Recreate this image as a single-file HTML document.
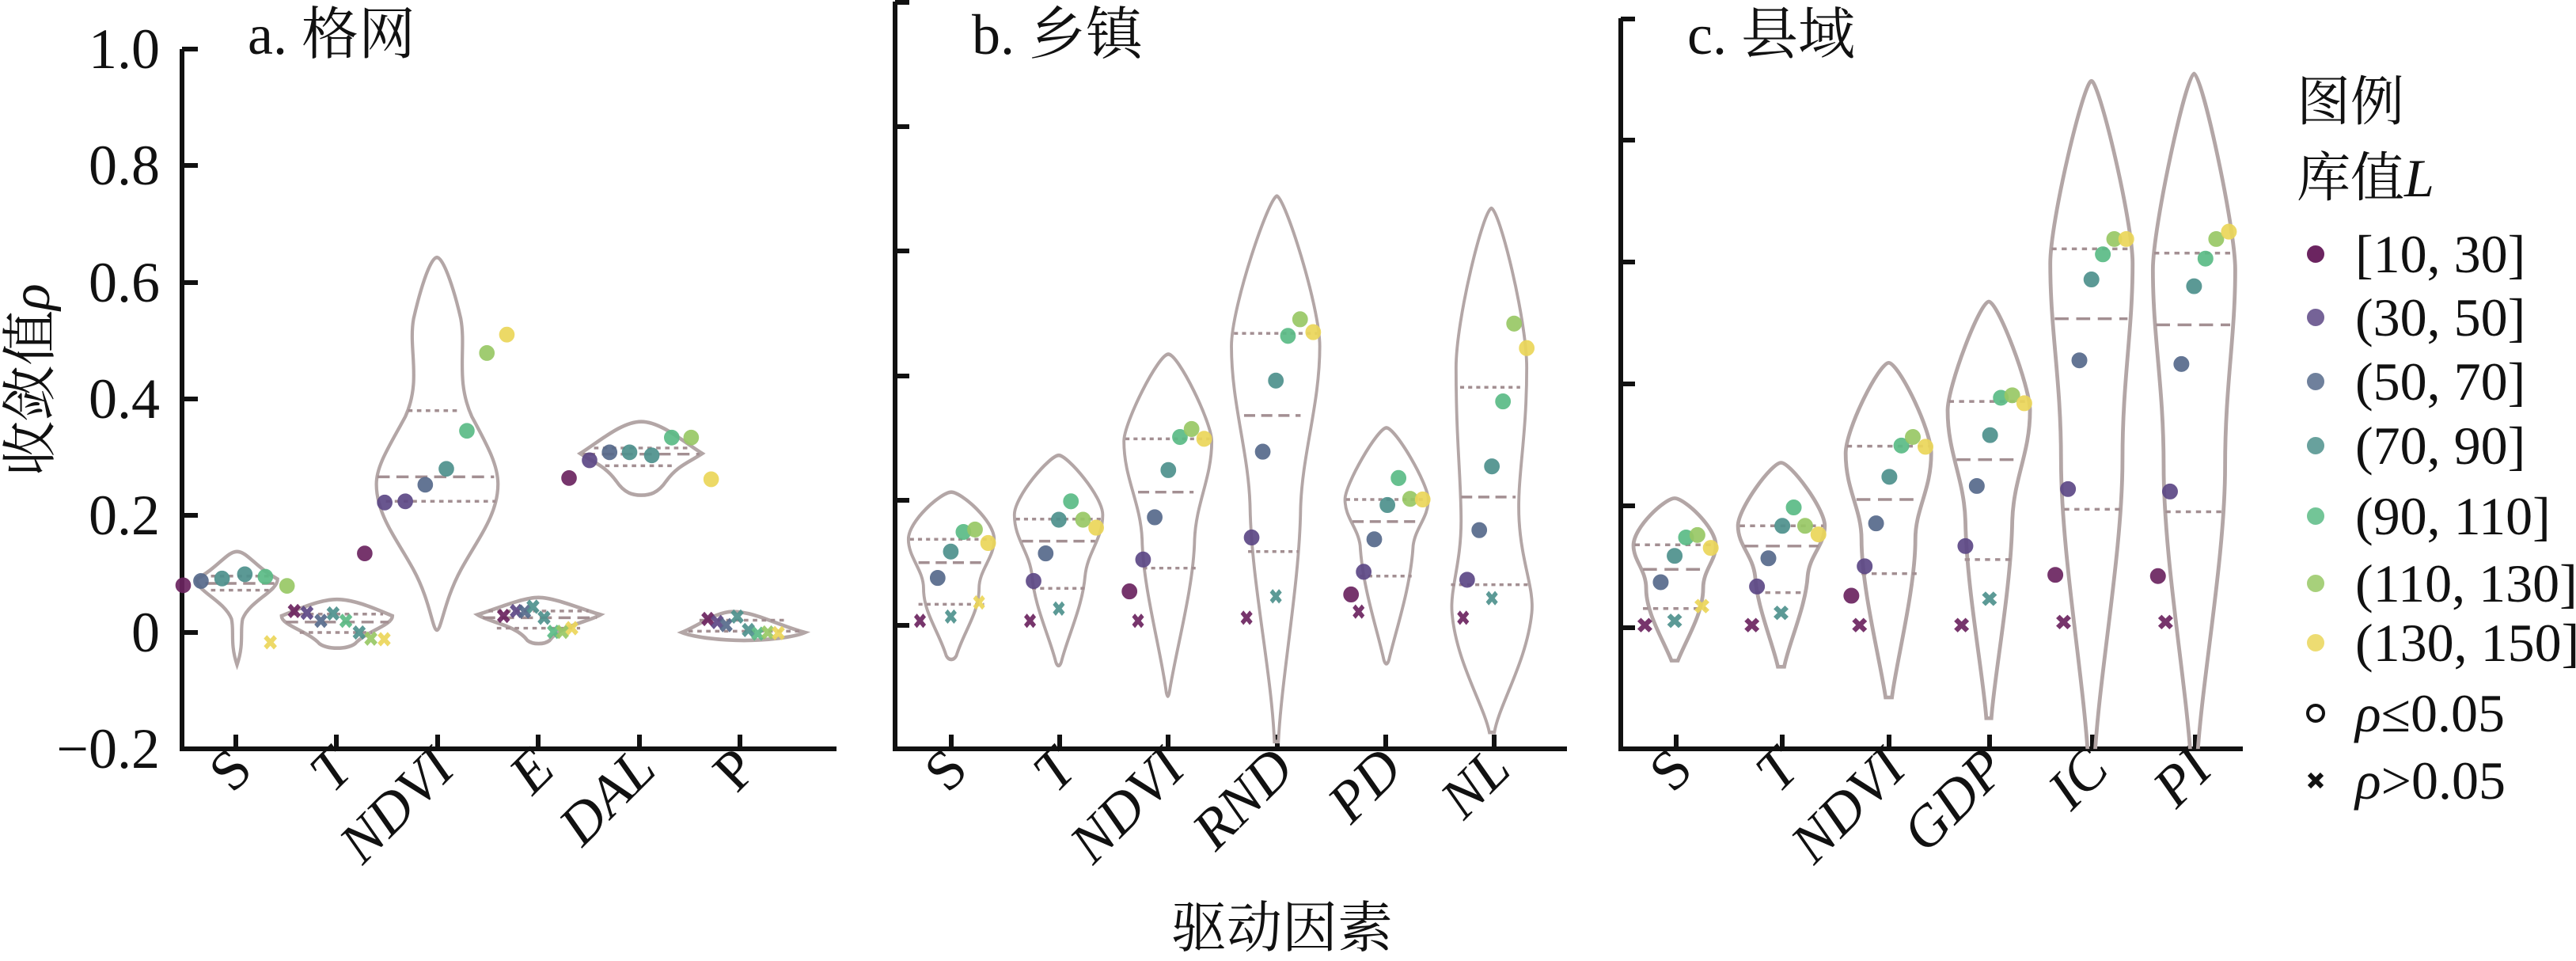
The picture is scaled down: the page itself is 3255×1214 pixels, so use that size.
<!DOCTYPE html>
<html><head><meta charset="utf-8">
<style>
html,body{margin:0;padding:0;background:#fff;}
svg{display:block;}
text{font-family:"Liberation Serif","Noto Serif CJK SC","Noto Sans CJK SC",serif;fill:#111;}
</style></head>
<body>
<svg width="3255" height="1214" viewBox="0 0 3255 1214" xmlns="http://www.w3.org/2000/svg">
<defs>
<path id="xm" d="M-9,-9L9,9M-9,9L9,-9" fill="none" stroke-width="8"/>
<clipPath id="clipc"><rect x="0" y="0" width="1300" height="1222"/></clipPath>
</defs>
<style>
.v{fill:none;stroke:#b3a6a6;stroke-width:6;}
.q{stroke:#a38f92;stroke-width:4.5;stroke-dasharray:8 8;fill:none;}
.m{stroke:#a38f92;stroke-width:4.5;stroke-dasharray:22 12;fill:none;}
.c0{fill:#6b2460;stroke:#6b2460}.c1{fill:#5d4886;stroke:#5d4886}.c2{fill:#566a8b;stroke:#566a8b}
.c3{fill:#4e918d;stroke:#4e918d}.c4{fill:#5bbb86;stroke:#5bbb86}.c5{fill:#98c865;stroke:#98c865}.c6{fill:#ebd65a;stroke:#ebd65a}
ellipse{stroke:none;opacity:0.92}
use{opacity:0.92}
</style>

<!-- ========== Panel a ========== -->
<g stroke="#111" stroke-width="6" fill="none">
<path d="M230,62 V946 H1057"/>
<path d="M230,62 h20 M230,209 h20 M230,357 h20 M230,504 h20 M230,651 h20 M230,799 h20"/>
<path d="M298,946 v-18 M425,946 v-18 M553,946 v-18 M680,946 v-18 M808,946 v-18 M935,946 v-18"/>
</g>
<g font-size="72" text-anchor="end">
<text x="202" y="86">1.0</text><text x="202" y="233">0.8</text><text x="202" y="381">0.6</text>
<text x="202" y="528">0.4</text><text x="202" y="675">0.2</text><text x="202" y="823">0</text><text x="202" y="970">−0.2</text>
</g>
<text x="313" y="68" font-size="72">a. 格网</text>
<text transform="translate(62,480) rotate(-90)" font-size="70" text-anchor="middle">收敛值<tspan font-style="italic">ρ</tspan></text>
<g font-size="72" text-anchor="end">
<text transform="translate(322,975) rotate(-45)">S</text>
<text transform="translate(449,975) rotate(-45)" font-style="italic">T</text>
<text transform="translate(577,975) rotate(-45)" font-style="italic">NDVI</text>
<text transform="translate(704,975) rotate(-45)" font-style="italic">E</text>
<text transform="translate(832,975) rotate(-45)" font-style="italic">DAL</text>
<text transform="translate(959,975) rotate(-45)">P</text>
</g>

<g transform="scale(0.7015,0.7742)">
<path class="v" d="M427,900 C445,900 460,925 500,945 C500,965 450,980 437,1010 C432,1030 440,1050 427,1085 C414,1050 422,1030 417,1010 C404,980 354,965 354,945 C394,925 409,900 427,900 Z"/>
<path class="q" d="M380,940H490 M380,963H490"/><path class="m" d="M370,952H495"/>
<path class="v" d="M607,978 C640,978 680,995 707,1005 C707,1020 660,1030 640,1050 C625,1060 590,1060 575,1050 C555,1030 507,1020 507,1005 C535,995 575,978 607,978Z"/>
<path class="q" d="M525,1002H690 M540,1032H670"/><path class="m" d="M515,1015H700"/>
<path class="v" d="M787,420 C800,420 820,480 830,520 C840,570 820,620 850,680 C880,730 897,760 897,790 C897,840 860,880 830,930 C800,980 795,1028 787,1028 C779,1028 775,980 745,930 C715,880 678,840 678,790 C678,760 700,730 730,680 C760,620 735,570 745,520 C755,480 774,420 787,420 Z"/>
<path class="q" d="M735,670H825 M695,818H893"/><path class="m" d="M680,778H890"/>
<path class="v" d="M970,975 C1000,975 1050,995 1082,1003 C1060,1015 1010,1020 990,1045 C980,1052 960,1052 950,1045 C930,1020 880,1015 860,1003 C890,995 940,975 970,975 Z"/>
<path class="q" d="M880,997H1060 M895,1025H1045"/><path class="m" d="M870,1008H1075"/>
<path class="v" d="M1155,688 C1190,688 1230,720 1265,740 C1240,755 1220,760 1200,785 C1185,805 1170,808 1155,808 C1140,808 1125,805 1110,785 C1090,760 1070,755 1045,740 C1080,720 1120,688 1155,688 Z"/>
<path class="q" d="M1070,731H1245 M1090,760H1215"/><path class="m" d="M1050,741H1260"/>
<path class="v" d="M1320,998 C1360,998 1400,1020 1450,1032 C1430,1040 1380,1045 1340,1045 C1300,1045 1250,1040 1228,1032 C1260,1020 1290,998 1320,998Z"/>
<path class="q" d="M1260,1012H1420 M1240,1030H1440"/>

<ellipse class="c0" cx="330" cy="955" rx="13.5" ry="12.3"/><ellipse class="c2" cx="362" cy="948" rx="13.5" ry="12.3"/>
<ellipse class="c3" cx="400" cy="944" rx="13.5" ry="12.3"/><ellipse class="c3" cx="441" cy="937" rx="13.5" ry="12.3"/>
<ellipse class="c4" cx="478" cy="941" rx="13.5" ry="12.3"/><ellipse class="c5" cx="517" cy="956" rx="13.5" ry="12.3"/>
<use href="#xm" class="c6" x="487" y="1048"/>
<use href="#xm" class="c0" x="530" y="997"/><use href="#xm" class="c1" x="553" y="1000"/><use href="#xm" class="c2" x="578" y="1013"/>
<use href="#xm" class="c3" x="600" y="1001"/><use href="#xm" class="c4" x="623" y="1013"/><use href="#xm" class="c3" x="647" y="1032"/>
<use href="#xm" class="c5" x="668" y="1042"/><use href="#xm" class="c6" x="692" y="1043"/>
<ellipse class="c0" cx="657" cy="903" rx="13.5" ry="12.3"/><ellipse class="c1" cx="693" cy="820" rx="13.5" ry="12.3"/>
<ellipse class="c1" cx="730" cy="818" rx="13.5" ry="12.3"/><ellipse class="c2" cx="766" cy="791" rx="13.5" ry="12.3"/>
<ellipse class="c3" cx="804" cy="765" rx="13.5" ry="12.3"/><ellipse class="c4" cx="841" cy="703" rx="13.5" ry="12.3"/>
<ellipse class="c5" cx="877" cy="576" rx="13.5" ry="12.3"/><ellipse class="c6" cx="913" cy="546" rx="13.5" ry="12.3"/>
<use href="#xm" class="c0" x="907" y="1005"/><use href="#xm" class="c1" x="930" y="997"/><use href="#xm" class="c2" x="945" y="998"/>
<use href="#xm" class="c3" x="960" y="990"/><use href="#xm" class="c3" x="980" y="1008"/><use href="#xm" class="c4" x="997" y="1031"/>
<use href="#xm" class="c5" x="1013" y="1031"/><use href="#xm" class="c6" x="1030" y="1025"/>
<ellipse class="c0" cx="1025" cy="780" rx="13.5" ry="12.3"/><ellipse class="c1" cx="1062" cy="751" rx="13.5" ry="12.3"/>
<ellipse class="c2" cx="1098" cy="738" rx="13.5" ry="12.3"/><ellipse class="c3" cx="1134" cy="738" rx="13.5" ry="12.3"/>
<ellipse class="c3" cx="1174" cy="743" rx="13.5" ry="12.3"/><ellipse class="c4" cx="1210" cy="714" rx="13.5" ry="12.3"/>
<ellipse class="c5" cx="1245" cy="714" rx="13.5" ry="12.3"/><ellipse class="c6" cx="1281" cy="782" rx="13.5" ry="12.3"/>
<use href="#xm" class="c0" x="1275" y="1010"/><use href="#xm" class="c1" x="1292" y="1015"/><use href="#xm" class="c2" x="1308" y="1020"/>
<use href="#xm" class="c3" x="1328" y="1006"/><use href="#xm" class="c3" x="1348" y="1028"/><use href="#xm" class="c4" x="1365" y="1034"/>
<use href="#xm" class="c5" x="1383" y="1032"/><use href="#xm" class="c6" x="1402" y="1033"/>
</g>

<!-- ========== Panel b ========== -->
<g stroke="#111" stroke-width="6" fill="none">
<path d="M1131,2 V946 H1980"/>
<path d="M1131,3 h18 M1131,160 h18 M1131,317 h18 M1131,475 h18 M1131,632 h18 M1131,790 h18"/>
<path d="M1202,946 v-18 M1339,946 v-18 M1476,946 v-18 M1614,946 v-18 M1751,946 v-18 M1888,946 v-18"/>
</g>
<text x="1228" y="68" font-size="72">b. 乡镇</text>
<g font-size="72" text-anchor="end" font-style="italic">
<text transform="translate(1226,975) rotate(-45)" font-style="normal">S</text>
<text transform="translate(1363,975) rotate(-45)">T</text>
<text transform="translate(1500,975) rotate(-45)">NDVI</text>
<text transform="translate(1638,975) rotate(-45)">RND</text>
<text transform="translate(1775,975) rotate(-45)">PD</text>
<text transform="translate(1912,975) rotate(-45)">NL</text>
</g>
<text x="1620" y="1196" font-size="70" text-anchor="middle">驱动因素</text>

<g transform="translate(1100,0) scale(0.6378,0.7742)">
<path class="v" d="M160,803 C180,803 245,850 245,880 C245,910 215,930 215,960 C215,1000 185,1030 170,1070 C165,1078 155,1078 150,1070 C135,1030 105,1000 105,960 C105,930 75,910 75,880 C75,850 140,803 160,803 Z"/>
<path class="q" d="M78,880H240 M95,986H225"/><path class="m" d="M95,918H220"/>
<path class="v" d="M373,743 C390,743 460,810 460,840 C460,880 430,900 425,940 C420,990 390,1040 378,1080 C375,1088 370,1088 367,1080 C355,1040 325,990 320,940 C315,900 285,880 285,840 C285,810 355,743 373,743 Z"/>
<path class="q" d="M288,847H457 M320,960H425"/><path class="m" d="M300,883H445"/>
<path class="v" d="M590,578 C610,578 676,690 676,720 C676,780 645,820 642,880 C640,960 605,1060 592,1130 C590,1138 588,1138 586,1130 C575,1060 540,960 538,880 C535,820 502,780 502,720 C502,690 570,578 590,578 Z"/>
<path class="q" d="M505,716H672 M540,927H645"/><path class="m" d="M530,803H640"/>
<path class="v" d="M805,320 C820,320 890,500 890,565 C890,660 855,740 852,830 C850,950 815,1100 808,1210 L800,1210 C795,1100 755,950 752,830 C750,740 715,660 715,565 C715,500 790,320 805,320 Z"/>
<path class="q" d="M720,544H885 M748,900H848"/><path class="m" d="M740,678H852"/>
<path class="v" d="M1022,698 C1040,698 1105,790 1105,815 C1105,845 1080,860 1075,890 C1070,960 1040,1030 1027,1077 C1024,1085 1020,1085 1017,1077 C1005,1030 975,960 970,890 C965,860 940,845 940,815 C940,790 1005,698 1022,698 Z"/>
<path class="q" d="M942,815H1103 M970,940H1072"/><path class="m" d="M955,851H1090"/>
<path class="v" d="M1230,340 C1245,340 1300,520 1300,600 C1300,720 1280,780 1285,850 C1290,920 1315,960 1310,1000 C1300,1080 1245,1150 1236,1195 L1226,1195 C1215,1150 1160,1080 1152,1000 C1148,960 1170,920 1170,850 C1170,780 1160,720 1160,600 C1160,520 1215,340 1230,340 Z"/>
<path class="q" d="M1168,632H1287 M1150,954H1310"/><path class="m" d="M1170,811H1278"/>

<use href="#xm" class="c0" x="98" y="1013"/><ellipse class="c2" cx="133" cy="943" rx="15" ry="12.5"/>
<ellipse class="c3" cx="159" cy="900" rx="15" ry="12.5"/><use href="#xm" class="c3" x="159" y="1006"/>
<ellipse class="c4" cx="184" cy="868" rx="15" ry="12.5"/><ellipse class="c5" cx="207" cy="864" rx="15" ry="12.5"/>
<ellipse class="c6" cx="233" cy="886" rx="15" ry="12.5"/><use href="#xm" class="c6" x="215" y="983"/>
<use href="#xm" class="c0" x="316" y="1013"/><ellipse class="c1" cx="323" cy="948" rx="15" ry="12.5"/>
<ellipse class="c2" cx="347" cy="903" rx="15" ry="12.5"/><use href="#xm" class="c3" x="373" y="993"/>
<ellipse class="c3" cx="373" cy="848" rx="15" ry="12.5"/><ellipse class="c4" cx="397" cy="818" rx="15" ry="12.5"/>
<ellipse class="c5" cx="421" cy="848" rx="15" ry="12.5"/><ellipse class="c6" cx="447" cy="861" rx="15" ry="12.5"/>
<use href="#xm" class="c0" x="530" y="1013"/><ellipse class="c0" cx="513" cy="965" rx="15" ry="12.5"/>
<ellipse class="c1" cx="540" cy="913" rx="15" ry="12.5"/><ellipse class="c2" cx="563" cy="844" rx="15" ry="12.5"/>
<ellipse class="c3" cx="590" cy="767" rx="15" ry="12.5"/><ellipse class="c4" cx="613" cy="713" rx="15" ry="12.5"/>
<ellipse class="c5" cx="636" cy="700" rx="15" ry="12.5"/><ellipse class="c6" cx="661" cy="716" rx="15" ry="12.5"/>
<use href="#xm" class="c0" x="745" y="1008"/><ellipse class="c1" cx="755" cy="877" rx="15" ry="12.5"/>
<ellipse class="c2" cx="777" cy="737" rx="15" ry="12.5"/><ellipse class="c3" cx="803" cy="621" rx="15" ry="12.5"/>
<use href="#xm" class="c3" x="803" y="973"/><ellipse class="c4" cx="827" cy="548" rx="15" ry="12.5"/>
<ellipse class="c5" cx="851" cy="521" rx="15" ry="12.5"/><ellipse class="c6" cx="877" cy="542" rx="15" ry="12.5"/>
<ellipse class="c0" cx="952" cy="970" rx="15" ry="12.5"/><use href="#xm" class="c0" x="967" y="998"/>
<ellipse class="c1" cx="977" cy="933" rx="15" ry="12.5"/><ellipse class="c2" cx="998" cy="880" rx="15" ry="12.5"/>
<ellipse class="c3" cx="1024" cy="824" rx="15" ry="12.5"/><ellipse class="c4" cx="1046" cy="780" rx="15" ry="12.5"/>
<ellipse class="c5" cx="1069" cy="814" rx="15" ry="12.5"/><ellipse class="c6" cx="1094" cy="815" rx="15" ry="12.5"/>
<use href="#xm" class="c0" x="1174" y="1008"/><ellipse class="c1" cx="1182" cy="946" rx="15" ry="12.5"/>
<ellipse class="c2" cx="1206" cy="865" rx="15" ry="12.5"/><ellipse class="c3" cx="1231" cy="761" rx="15" ry="12.5"/>
<use href="#xm" class="c3" x="1231" y="976"/><ellipse class="c4" cx="1253" cy="655" rx="15" ry="12.5"/>
<ellipse class="c5" cx="1275" cy="528" rx="15" ry="12.5"/><ellipse class="c6" cx="1300" cy="568" rx="15" ry="12.5"/>
</g>

<!-- ========== Panel c ========== -->
<g stroke="#111" stroke-width="6" fill="none">
<path d="M2048,23 V946 H2834"/>
<path d="M2048,24 h18 M2048,177 h18 M2048,331 h18 M2048,485 h18 M2048,639 h18 M2048,793 h18"/>
<path d="M2118,946 v-18 M2252,946 v-18 M2387,946 v-18 M2514,946 v-18 M2644,946 v-18 M2774,946 v-18"/>
</g>
<text x="2132" y="68" font-size="72">c. 县域</text>
<g font-size="72" text-anchor="end" font-style="italic">
<text transform="translate(2142,975) rotate(-45)" font-style="normal">S</text>
<text transform="translate(2276,975) rotate(-45)">T</text>
<text transform="translate(2411,975) rotate(-45)">NDVI</text>
<text transform="translate(2538,975) rotate(-45)">GDP</text>
<text transform="translate(2668,975) rotate(-45)">IC</text>
<text transform="translate(2798,975) rotate(-45)">PI</text>
</g>

<g transform="translate(2000,0) scale(0.8004,0.7742)">
<g clip-path="url(#clipc)">
<path class="v" d="M145,813 C160,813 210,860 210,890 C210,915 190,930 190,960 C190,1000 165,1040 150,1078 L140,1078 C125,1040 100,1000 100,960 C100,930 80,915 80,890 C80,860 130,813 145,813 Z"/>
<path class="q" d="M82,889H208 M95,993H195"/><path class="m" d="M95,929H195"/>
<path class="v" d="M313,755 C328,755 382,830 382,858 C382,890 358,905 355,940 C352,990 325,1050 318,1088 L308,1088 C300,1050 275,990 272,940 C268,905 245,890 245,858 C245,830 298,755 313,755 Z"/>
<path class="q" d="M248,858H380 M272,967H352"/><path class="m" d="M255,891H372"/>
<path class="v" d="M483,592 C498,592 550,700 550,740 C550,800 525,830 525,880 C525,960 495,1080 488,1138 L478,1138 C470,1080 440,960 440,880 C440,830 415,800 415,740 C415,700 468,592 483,592 Z"/>
<path class="q" d="M417,728H549 M440,936H527"/><path class="m" d="M432,815H525"/>
<path class="v" d="M641,492 C655,492 706,630 706,670 C706,740 680,780 678,850 C676,960 650,1100 645,1172 L637,1172 C632,1100 606,960 604,850 C602,780 576,740 576,670 C576,630 627,492 641,492 Z"/>
<path class="q" d="M578,655H705 M603,913H678"/><path class="m" d="M590,750H685"/>
<path class="v" d="M803,132 C815,132 868,360 868,430 C868,540 852,620 852,750 C852,900 815,1100 808,1240 L798,1240 C790,1100 755,900 755,750 C755,620 738,540 738,430 C738,360 791,132 803,132 Z"/>
<path class="q" d="M740,406H866 M760,831H850"/><path class="m" d="M745,520H860"/>
<path class="v" d="M965,120 C977,120 1030,370 1030,440 C1030,550 1014,630 1014,760 C1014,910 977,1110 970,1240 L960,1240 C952,1110 917,910 917,760 C917,630 900,550 900,440 C900,370 953,120 965,120 Z"/>
<path class="q" d="M902,413H1028 M920,835H1012"/><path class="m" d="M905,530H1022"/>
</g>
<use href="#xm" class="c0" x="98" y="1020"/><ellipse class="c2" cx="123" cy="950" rx="12" ry="12.4"/>
<ellipse class="c3" cx="145" cy="907" rx="12" ry="12.4"/><use href="#xm" class="c3" x="145" y="1013"/>
<ellipse class="c4" cx="163" cy="877" rx="12" ry="12.4"/><ellipse class="c5" cx="181" cy="873" rx="12" ry="12.4"/>
<ellipse class="c6" cx="202" cy="894" rx="12" ry="12.4"/><use href="#xm" class="c6" x="188" y="989"/>
<use href="#xm" class="c0" x="267" y="1020"/><ellipse class="c1" cx="275" cy="957" rx="12" ry="12.4"/>
<ellipse class="c2" cx="293" cy="911" rx="12" ry="12.4"/><use href="#xm" class="c3" x="313" y="1000"/>
<ellipse class="c3" cx="315" cy="858" rx="12" ry="12.4"/><ellipse class="c4" cx="333" cy="828" rx="12" ry="12.4"/>
<ellipse class="c5" cx="351" cy="858" rx="12" ry="12.4"/><ellipse class="c6" cx="372" cy="872" rx="12" ry="12.4"/>
<use href="#xm" class="c0" x="437" y="1020"/><ellipse class="c0" cx="424" cy="972" rx="12" ry="12.4"/>
<ellipse class="c1" cx="445" cy="924" rx="12" ry="12.4"/><ellipse class="c2" cx="463" cy="854" rx="12" ry="12.4"/>
<ellipse class="c3" cx="484" cy="778" rx="12" ry="12.4"/><ellipse class="c4" cx="503" cy="727" rx="12" ry="12.4"/>
<ellipse class="c5" cx="521" cy="713" rx="12" ry="12.4"/><ellipse class="c6" cx="541" cy="729" rx="12" ry="12.4"/>
<use href="#xm" class="c0" x="598" y="1020"/><ellipse class="c1" cx="604" cy="891" rx="12" ry="12.4"/>
<ellipse class="c2" cx="622" cy="793" rx="12" ry="12.4"/><use href="#xm" class="c3" x="642" y="977"/>
<ellipse class="c3" cx="643" cy="710" rx="12" ry="12.4"/><ellipse class="c4" cx="660" cy="649" rx="12" ry="12.4"/>
<ellipse class="c5" cx="678" cy="645" rx="12" ry="12.4"/><ellipse class="c6" cx="697" cy="658" rx="12" ry="12.4"/>
<use href="#xm" class="c0" x="759" y="1015"/><ellipse class="c0" cx="746" cy="938" rx="12" ry="12.4"/>
<ellipse class="c1" cx="766" cy="798" rx="12" ry="12.4"/><ellipse class="c2" cx="784" cy="588" rx="12" ry="12.4"/>
<ellipse class="c3" cx="803" cy="456" rx="12" ry="12.4"/><ellipse class="c4" cx="821" cy="415" rx="12" ry="12.4"/>
<ellipse class="c5" cx="839" cy="390" rx="12" ry="12.4"/><ellipse class="c6" cx="858" cy="390" rx="12" ry="12.4"/>
<use href="#xm" class="c0" x="920" y="1015"/><ellipse class="c0" cx="908" cy="940" rx="12" ry="12.4"/>
<ellipse class="c1" cx="927" cy="802" rx="12" ry="12.4"/><ellipse class="c2" cx="945" cy="594" rx="12" ry="12.4"/>
<ellipse class="c3" cx="965" cy="467" rx="12" ry="12.4"/><ellipse class="c4" cx="983" cy="422" rx="12" ry="12.4"/>
<ellipse class="c5" cx="1000" cy="390" rx="12" ry="12.4"/><ellipse class="c6" cx="1020" cy="378" rx="12" ry="12.4"/>
</g>

<!-- ========== Legend ========== -->
<g font-size="68">
<text x="2902" y="152">图例</text>
<text x="2902" y="248">库值<tspan font-style="italic">L</tspan></text>
<text x="2976" y="344">[10, 30]</text>
<text x="2976" y="424">(30, 50]</text>
<text x="2976" y="505">(50, 70]</text>
<text x="2976" y="586">(70, 90]</text>
<text x="2976" y="675">(90, 110]</text>
<text x="2976" y="760">(110, 130]</text>
<text x="2976" y="835">(130, 150]</text>
<text x="2976" y="924"><tspan font-style="italic">ρ</tspan>≤0.05</text>
<text x="2976" y="1009"><tspan font-style="italic">ρ</tspan>&gt;0.05</text>
</g>
<g>
<circle class="c0" cx="2926" cy="321" r="10.5" stroke="none"/>
<circle class="c1" cx="2926" cy="401" r="10.5" stroke="none" opacity="0.85"/>
<circle class="c2" cx="2926" cy="482" r="10.5" stroke="none" opacity="0.85"/>
<circle class="c3" cx="2926" cy="563" r="10.5" stroke="none" opacity="0.85"/>
<circle class="c4" cx="2926" cy="652" r="10.5" stroke="none" opacity="0.85"/>
<circle class="c5" cx="2926" cy="737" r="10.5" stroke="none" opacity="0.85"/>
<circle class="c6" cx="2926" cy="812" r="10.5" stroke="none" opacity="0.85"/>
<circle cx="2926" cy="901" r="10" fill="none" stroke="#111" stroke-width="4"/>
<path d="M2918,978L2934,994M2918,994L2934,978" stroke="#111" stroke-width="6"/>
</g>
</svg>
</body></html>
